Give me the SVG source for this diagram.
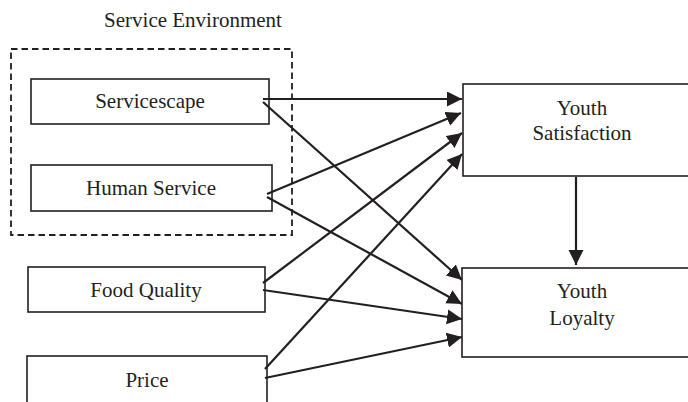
<svg xmlns="http://www.w3.org/2000/svg" width="688" height="402" viewBox="0 0 688 402">
<style>
.box{fill:#fff;stroke:#231f20;stroke-width:1.6}
.dash{fill:none;stroke:#231f20;stroke-width:1.8;stroke-dasharray:6.5 4}
.lbl{font-family:"Liberation Serif","Times New Roman",serif;font-size:21px;fill:#231f20;text-anchor:middle}
.conn line{stroke:#231f20;stroke-width:2.2;marker-end:url(#ah)}
</style>
<defs>
<marker id="ah" markerUnits="userSpaceOnUse" markerWidth="16" markerHeight="16" refX="15" refY="7.5" orient="auto">
<path d="M0,0 L15,7.5 L0,15 z" fill="#231f20"/>
</marker>
</defs>
<rect width="688" height="402" fill="#fff"/>
<g id="service-environment">
<rect class="dash" x="11" y="49" width="281" height="186"/>
<text class="lbl" x="193" y="27">Service Environment</text>
</g>
<g id="servicescape">
<rect class="box" x="31" y="79" width="238" height="45"/>
<text class="lbl" x="150" y="108">Servicescape</text>
</g>
<g id="human-service">
<rect class="box" x="31" y="165" width="241" height="46"/>
<text class="lbl" x="151" y="195">Human Service</text>
</g>
<g id="food-quality">
<rect class="box" x="28" y="267" width="237" height="45"/>
<text class="lbl" x="146" y="297">Food Quality</text>
</g>
<g id="price">
<rect class="box" x="27" y="356" width="240" height="52"/>
<text class="lbl" x="147" y="387">Price</text>
</g>
<g id="youth-satisfaction">
<rect class="box" x="463" y="84" width="230" height="92"/>
<text class="lbl" x="582" y="115">Youth</text>
<text class="lbl" x="582" y="140">Satisfaction</text>
</g>
<g id="youth-loyalty">
<rect class="box" x="462" y="268" width="230" height="89"/>
<text class="lbl" x="582" y="298">Youth</text>
<text class="lbl" x="582" y="325">Loyalty</text>
</g>
<g id="connectors" class="conn">
<line x1="263" y1="99" x2="462" y2="99"/>
<line x1="263" y1="102" x2="462" y2="280"/>
<line x1="267" y1="194" x2="461" y2="113"/>
<line x1="267" y1="197" x2="462" y2="304"/>
<line x1="263" y1="283" x2="462" y2="133"/>
<line x1="263" y1="290" x2="462" y2="319"/>
<line x1="265" y1="369" x2="462" y2="154"/>
<line x1="265" y1="378" x2="462" y2="337"/>
<line x1="576" y1="177" x2="576" y2="265"/>
</g>
</svg>
